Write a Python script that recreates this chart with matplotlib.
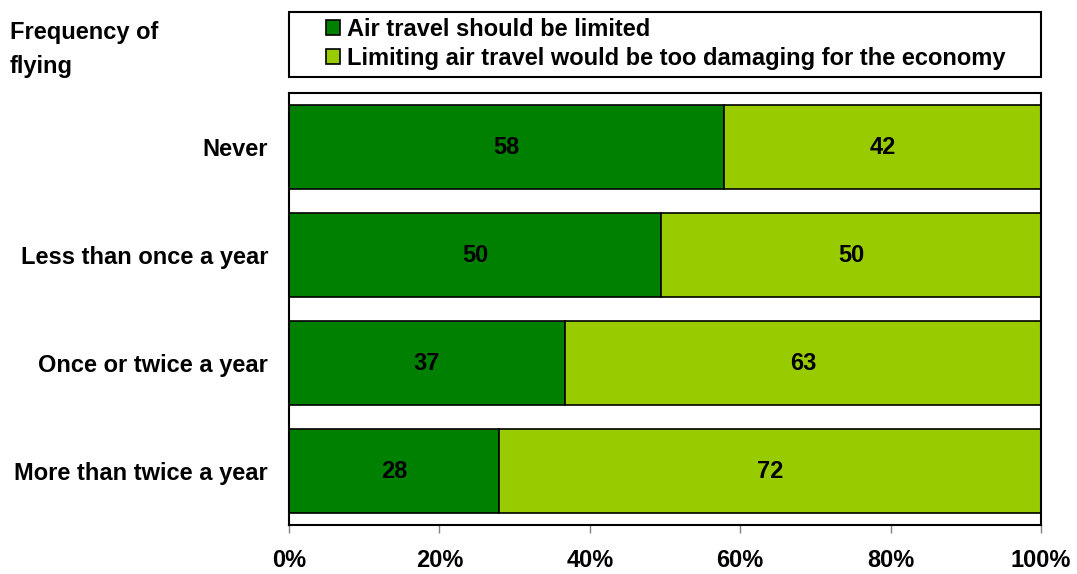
import matplotlib.pyplot as plt
from matplotlib.patches import Rectangle
import numpy as np

plt.rcParams['font.family'] = ['Liberation Sans', 'DejaVu Sans']

categories = ['Never', 'Less than once a year', 'Once or twice a year', 'More than twice a year']
limited = [57.9, 49.5, 36.7, 27.9]
damaging = [42.1, 50.5, 63.3, 72.1]
limited_labels = ['58', '50', '37', '28']
damaging_labels = ['42', '50', '63', '72']
series_names = ['Air travel should be limited',
                'Limiting air travel would be too damaging for the economy']
ticks = [0, 20, 40, 60, 80, 100]

dark = '#008000'
light = '#99CC00'
fs = 17

fig = plt.figure(figsize=(10.77, 5.74), dpi=100)
ax = fig.add_axes([289 / 1077, 1 - 525 / 574, 752 / 1077, 432 / 574])

y = np.arange(len(categories))
b1 = ax.barh(y, limited, height=0.78, color=dark, edgecolor='black', linewidth=1.2)
b2 = ax.barh(y, damaging, left=limited, height=0.78, color=light, edgecolor='black', linewidth=1.2)

for i in range(len(categories)):
    ax.text(limited[i] / 2, y[i], limited_labels[i], ha='center', va='center',
            fontsize=fs, fontweight='bold')
    ax.text(limited[i] + damaging[i] / 2, y[i], damaging_labels[i], ha='center', va='center',
            fontsize=fs, fontweight='bold')

ax.set_ylim(len(categories) - 0.5, -0.5)
ax.set_xlim(0, 100)
ax.set_yticks(y)
ax.set_yticklabels(categories, fontsize=fs, fontweight='bold')
ax.tick_params(axis='y', length=0, pad=15)
ax.set_xticks(ticks)
ax.set_xticklabels([f'{t}%' for t in ticks], fontsize=fs, fontweight='bold')
ax.tick_params(axis='x', length=6, color='#808080', width=1, pad=11)
for s in ax.spines.values():
    s.set_linewidth(1.5)
    s.set_color('black')

fig.text(10 / 1077, 1 - 21 / 574, 'Frequency of\nflying', fontsize=fs, fontweight='bold',
         ha='left', va='top', linespacing=1.6)

# legend box drawn separately so the entries can sit indented inside it
fig.patches.append(Rectangle((289 / 1077, 1 - 77 / 574), 752 / 1077, 65 / 574,
                             transform=fig.transFigure, fill=False,
                             edgecolor='black', linewidth=1.5))
leg = fig.legend([b1, b2], series_names, loc='upper left',
                 bbox_to_anchor=(326 / 1077, 1 - 18 / 574),
                 prop={'weight': 'bold', 'size': fs},
                 frameon=False, handlelength=0.6, handleheight=0.6,
                 handletextpad=0.3, borderaxespad=0, labelspacing=0.25,
                 borderpad=0)
for h in leg.legend_handles:
    h.set_linewidth(1.2)
    h.set_edgecolor('black')

fig.savefig('out.png', dpi=100)
